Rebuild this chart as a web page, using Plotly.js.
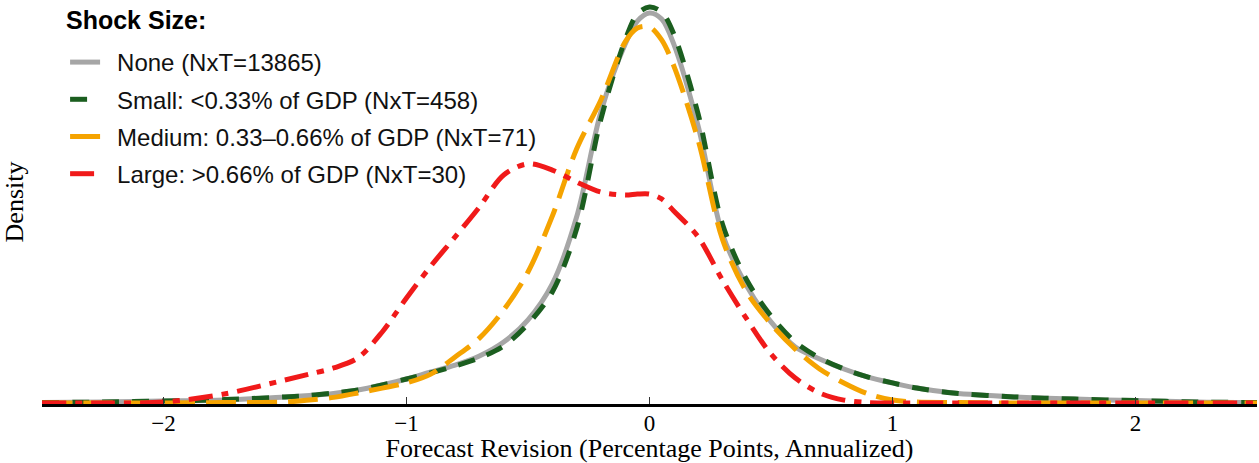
<!DOCTYPE html>
<html>
<head>
<meta charset="utf-8">
<script src="https://cdn.plot.ly/plotly-3.0.1.min.js"></script>
<style>html,body{margin:0;padding:0;background:#fff;}</style>
</head>
<body>
<div id="chart" style="width:1259px;height:463px;"></div>
<script>
// Forecast revision grid (percentage points, annualized)
const revision = [-2.5, -2.25, -2, -1.75, -1.5, -1.4, -1.3, -1.2, -1.1, -1, -0.9, -0.8, -0.7, -0.6, -0.5, -0.4, -0.3, -0.2, -0.1, -0.05, 0, 0.05, 0.1, 0.2, 0.3, 0.4, 0.5, 0.6, 0.7, 0.8, 0.9, 1, 1.1, 1.25, 1.5, 1.75, 2, 2.25, 2.5];

// Kernel density estimates by shock size
const densityNone = [0.006, 0.008, 0.012, 0.016, 0.029, 0.035, 0.043, 0.057, 0.078, 0.102, 0.131, 0.159, 0.196, 0.253, 0.343, 0.490, 0.763, 1.192, 1.469, 1.563, 1.596, 1.571, 1.469, 1.135, 0.694, 0.482, 0.335, 0.233, 0.184, 0.143, 0.110, 0.086, 0.065, 0.045, 0.029, 0.020, 0.014, 0.008, 0.006];
const densitySmall = [0.006, 0.008, 0.012, 0.018, 0.029, 0.035, 0.045, 0.057, 0.078, 0.102, 0.127, 0.155, 0.188, 0.237, 0.327, 0.457, 0.714, 1.163, 1.486, 1.592, 1.620, 1.600, 1.510, 1.184, 0.735, 0.506, 0.359, 0.253, 0.188, 0.143, 0.110, 0.086, 0.065, 0.045, 0.029, 0.020, 0.014, 0.008, 0.006];
const densityMedium = [0.004, 0.004, 0.004, 0.006, 0.008, 0.016, 0.027, 0.045, 0.065, 0.086, 0.122, 0.192, 0.269, 0.384, 0.539, 0.767, 1.041, 1.241, 1.478, 1.535, 1.539, 1.486, 1.380, 1.078, 0.673, 0.457, 0.327, 0.224, 0.143, 0.086, 0.041, 0.016, 0.008, 0.006, 0.004, 0.004, 0.004, 0.004, 0.004];
const densityLarge = [0.004, 0.004, 0.008, 0.041, 0.098, 0.122, 0.147, 0.188, 0.294, 0.433, 0.563, 0.682, 0.804, 0.935, 0.980, 0.955, 0.906, 0.865, 0.853, 0.857, 0.857, 0.837, 0.788, 0.682, 0.506, 0.347, 0.204, 0.106, 0.045, 0.016, 0.006, 0.004, 0.004, 0.004, 0.004, 0.004, 0.004, 0.004, 0.004];

const seriesNames = [
  "None (NxT=13865)",
  "Small: <0.33% of GDP (NxT=458)",
  "Medium: 0.33\u20130.66% of GDP (NxT=71)",
  "Large: >0.66% of GDP (NxT=30)"
];
const tickValues = [-2, -1, 0, 1, 2];
const xTitle = "Forecast Revision (Percentage Points, Annualized)";
const yTitle = "Density";
const legendTitle = "Shock Size:";

const styles = [
  {color: "#a6a6a6", dash: "solid"},
  {color: "#1b5e1f", dash: "17px,13px"},
  {color: "#f5a300", dash: "30px,11px"},
  {color: "#f01a1a", dash: "24px,9px,7px,9px"}
];
const dens = [densityNone, densitySmall, densityMedium, densityLarge];

const traces = dens.map((d, i) => ({
  type: "scatter",
  mode: "lines",
  x: revision,
  y: d,
  name: "\u2002" + seriesNames[i],
  legendgroup: "g" + i,
  line: {color: styles[i].color, dash: styles[i].dash, width: 5, shape: "spline", smoothing: 0.9},
  hoverinfo: "skip"
}));

const serif = "Liberation Serif, Times New Roman, serif";
const sans = "Liberation Sans, Arial, sans-serif";

const layout = {
  width: 1259,
  height: 463,
  margin: {l: 42, r: 2, t: 0, b: 59},
  paper_bgcolor: "#ffffff",
  plot_bgcolor: "#ffffff",
  showlegend: true,
  legend: {
    x: 0.019, y: 0.901, xanchor: "left", yanchor: "top",
    bgcolor: "rgba(255,255,255,0)",
    borderwidth: 0,
    font: {family: sans, size: 24, color: "#111"},
    itemwidth: 30,
    tracegroupgap: 3,
    traceorder: "grouped"
  },
  annotations: [{
    text: "<b>" + legendTitle + "</b>",
    xref: "paper", yref: "paper",
    x: (64 - 42) / 1215, y: 1 - 20 / 404,
    xanchor: "left", yanchor: "middle",
    showarrow: false,
    font: {family: sans, size: 25, color: "#000"}
  }],
  xaxis: {
    range: [-2.5, 2.5],
    tickvals: tickValues,
    ticks: "inside",
    ticklen: 7,
    tickwidth: 1.5,
    tickcolor: "#333",
    showline: true,
    linecolor: "#000",
    linewidth: 2.5,
    showgrid: false,
    zeroline: false,
    ticklabelstandoff: -3,
    tickfont: {family: serif, size: 23, color: "#000"},
    title: {text: xTitle, font: {family: serif, size: 26, color: "#000"}, standoff: 6}
  },
  yaxis: {
    range: [0, 1.649],
    showticklabels: false,
    ticks: "",
    showgrid: false,
    zeroline: false,
    showline: false,
    title: {text: yTitle, font: {family: serif, size: 26, color: "#000"}, standoff: 10}
  }
};

Plotly.newPlot("chart", traces, layout, {displayModeBar: false, staticPlot: true});
</script>
</body>
</html>
